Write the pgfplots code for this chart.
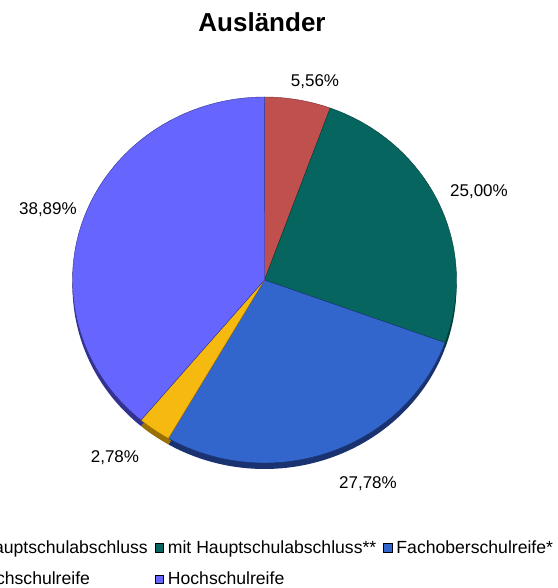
\documentclass[border=0pt]{standalone}
\usepackage{fontspec}
\setmainfont{Liberation Sans}
\usepackage{pgfplots}
\pgfplotsset{compat=1.18}

\definecolor{cRed}{HTML}{C0504D}
\definecolor{cTeal}{HTML}{06665F}
\definecolor{cBlue}{HTML}{3366CC}
\definecolor{cYellow}{HTML}{F5B90F}
\definecolor{cPurple}{HTML}{6666FF}
\definecolor{cRedD}{HTML}{7A2E2C}
\definecolor{cTealD}{HTML}{033D39}
\definecolor{cBlueD}{HTML}{1A3370}
\definecolor{cYellowD}{HTML}{9A6F05}
\definecolor{cPurpleD}{HTML}{33338F}

% shares in percent, clockwise from 12 o'clock
\def\vA{5.56}
\def\vB{25.00}
\def\vC{27.78}
\def\vD{2.78}
\def\vE{38.89}
\pgfmathsetmacro\aO{90}
\pgfmathsetmacro\aA{\aO-3.6*\vA}
\pgfmathsetmacro\aB{\aA-3.6*\vB}
\pgfmathsetmacro\aC{\aB-3.6*\vC}
\pgfmathsetmacro\aD{\aC-3.6*\vD}
\pgfmathsetmacro\aE{\aD-3.6*\vE}

\newcommand\slice[2]{%
  (axis cs:0,0) -- (axis cs:{cos(#1)},{sin(#1)})
  arc[start angle=#1, end angle=#2, x radius=1, y radius=1] -- cycle}

\begin{document}
\begin{tikzpicture}
\begin{axis}[
  hide axis, clip=false,
  x=192pt, y=183pt,
  xmin=-1.5, xmax=1.5, ymin=-1.5, ymax=1.5,
  anchor=center, at={(264.5pt,308pt)},
  legend columns=3,
  legend cell align=left,
  legend image code/.code={\draw[#1,draw=black,line width=0.6pt] (0pt,-4.3pt) rectangle (8.6pt,4.3pt);},
  legend style={draw=none, fill=none, at={(-0.0964,0.0327)}, anchor=north west,
    font=\fontsize{17.6}{20}\selectfont, row sep=13pt,
    /tikz/every odd column/.append style={column sep=2pt},
    /tikz/every even column/.append style={column sep=5pt}},
]
% side (depth) of the 3D pie
\fill[cRedD, yshift=-6pt] \slice{\aO}{\aA};
\fill[cTealD, yshift=-6pt] \slice{\aA}{\aB};
\fill[cBlueD, yshift=-6pt] \slice{\aB}{\aC};
\fill[cYellowD, yshift=-6pt] \slice{\aC}{\aD};
\fill[cPurpleD, yshift=-6pt] \slice{\aD}{\aE};
% top surface
\filldraw[fill=cRed, draw=cRedD, line width=0.4pt] \slice{\aO}{\aA};
\filldraw[fill=cTeal, draw=cTealD, line width=0.4pt] \slice{\aA}{\aB};
\filldraw[fill=cBlue, draw=cBlueD, line width=0.4pt] \slice{\aB}{\aC};
\filldraw[fill=cYellow, draw=cYellowD, line width=0.4pt] \slice{\aC}{\aD};
\filldraw[fill=cPurple, draw=cPurpleD, line width=0.4pt] \slice{\aD}{\aE};

\addlegendimage{fill=cRed}\addlegendentry{ohne Hauptschulabschluss}
\addlegendimage{fill=cTeal}\addlegendentry{mit Hauptschulabschluss**}
\addlegendimage{fill=cBlue}\addlegendentry{Fachoberschulreife*}
\addlegendimage{fill=cYellow}\addlegendentry{Fachhochschulreife}
\addlegendimage{fill=cPurple}\addlegendentry{Hochschulreife}

\begin{scope}[font=\fontsize{17}{20}\selectfont]
\node at (axis cs:0.263,1.082) {5,56\%};
\node at (axis cs:1.117,0.481) {25,00\%};
\node at (axis cs:0.539,-1.115) {27,78\%};
\node at (axis cs:-0.779,-0.973) {2,78\%};
\node at (axis cs:-1.128,0.383) {38,89\%};
\end{scope}
\end{axis}
\node[font=\fontsize{26}{30}\selectfont\bfseries] at (262pt,566pt) {Ausländer};
\pgfresetboundingbox
\useasboundingbox (0,0) rectangle (557pt,588pt);
\end{tikzpicture}
\end{document}
